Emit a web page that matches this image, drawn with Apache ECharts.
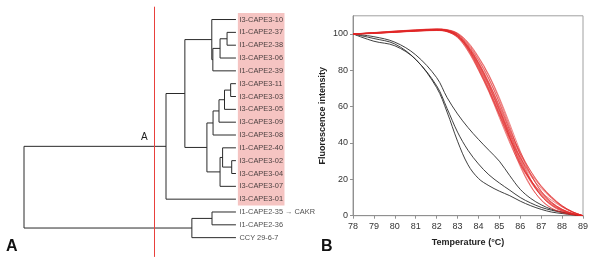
<!DOCTYPE html>
<html>
<head>
<meta charset="utf-8">
<script src="https://cdn.jsdelivr.net/npm/echarts@6/dist/echarts.min.js"></script>
<style>
  html, body { margin: 0; padding: 0; background: #fff; }
  #chart { width: 600px; height: 263px; }
</style>
</head>
<body>
<div id="chart"></div>
<script>
// ---- panel A : dendrogram ----
const leafNames = [
  "I3-CAPE3-10", "I1-CAPE2-37", "I1-CAPE2-38", "I3-CAPE3-06", "I1-CAPE2-39",
  "I3-CAPE3-11", "I3-CAPE3-03", "I3-CAPE3-05", "I3-CAPE3-09", "I3-CAPE3-08",
  "I1-CAPE2-40", "I3-CAPE3-02", "I3-CAPE3-04", "I3-CAPE3-07", "I3-CAPE3-01",
  "I1-CAPE2-35 \u2192 CAKR", "I1-CAPE2-36", "CCY 29-6-7"
];
const highlightedCount = 15; // first 15 leaves are shaded
const leafHeight = 100;
const cutHeight = 61.6;
// node id -> [height, childA, childB]; numbers are leaf indexes, strings are nodes
const treeNodes = {
  P: [95.8, 1, 2],
  S: [92.5, "P", 3],
  T2: [89.1, "S", 4],
  T: [88.6, 0, "T2"],
  U1: [97.5, 5, 6],
  U2: [94.6, "U1", 7],
  U3: [92.0, "U2", 8],
  U4: [89.2, "U3", 9],
  L1: [98.0, 11, 12],
  L2: [93.7, 10, "L1"],
  L3: [92.5, "L2", 13],
  N: [86.3, "U4", "L3"],
  M: [75.9, "T", "N"],
  C1: [67.0, "M", 14],
  C3: [88.7, 15, 16],
  C2: [79.2, "C3", 17],
  R: [0, "C1", "C2"]
};

// ---- panel B : melting curves ----
const temps = [78, 79, 80, 81, 82, 82.5, 83, 83.5, 84, 84.5, 85, 85.5, 86, 86.5, 87, 87.5, 88, 88.5, 89];
const blackCurves = [
  [100, 98.5, 95.5, 88.5, 76, 65, 56, 48.5, 42, 36, 30, 22, 14.5, 9.5, 6, 3.5, 2, 0.8, 0],
  [100, 97.5, 94.5, 86, 71.5, 59, 46, 36, 28.5, 22.5, 18, 14, 10, 7, 4.6, 3, 1.8, 0.8, 0],
  [100, 96, 93.5, 86, 70.5, 57, 41, 28, 20.5, 16.5, 13.5, 11, 8, 5.5, 3.5, 2, 1.2, 0.5, 0]
];
const redCurves = [
  [100, 100.6, 101.3, 102.0, 102.6, 102.2, 100.2, 95.0, 87.0, 77.0, 64.0, 49.0, 33.0, 20.0, 11.0, 5.5, 2.4, 0.8, 0],
  [100, 100.5, 101.0, 101.6, 102.0, 101.5, 99.0, 92.0, 82.5, 71.0, 57.5, 43.0, 29.0, 18.5, 11.0, 6.0, 2.8, 1.0, 0],
  [100, 100.4, 101.1, 101.8, 102.4, 101.9, 99.5, 93.5, 84.5, 73.5, 60.0, 45.0, 30.5, 19.5, 12.0, 6.8, 3.4, 1.3, 0],
  [100, 100.7, 101.5, 102.2, 102.7, 102.0, 99.3, 92.8, 83.0, 71.5, 58.0, 44.5, 32.0, 22.0, 15.0, 9.5, 5.0, 2.0, 0],
  [100, 100.3, 100.9, 101.5, 101.9, 101.2, 98.2, 91.0, 80.5, 68.5, 55.0, 41.0, 27.0, 16.0, 8.8, 4.2, 1.8, 0.6, 0],
  [100, 100.6, 101.4, 102.1, 102.5, 102.1, 100.0, 94.5, 86.0, 75.5, 62.5, 48.0, 34.0, 22.5, 13.5, 7.5, 3.5, 1.2, 0],
  [100, 100.5, 101.2, 101.9, 102.3, 101.7, 98.8, 91.5, 81.0, 69.0, 55.5, 42.5, 32.0, 23.0, 16.0, 10.0, 5.5, 2.2, 0],
  [100, 100.4, 101.0, 101.7, 102.1, 101.4, 98.5, 92.5, 83.5, 72.5, 59.0, 43.0, 28.0, 16.5, 8.5, 4.0, 1.6, 0.5, 0],
  [100, 100.8, 101.6, 102.3, 102.8, 102.4, 100.5, 95.5, 87.5, 77.5, 65.0, 50.5, 35.5, 23.0, 13.5, 7.0, 3.2, 1.1, 0],
  [100, 100.3, 101.0, 101.6, 102.0, 101.3, 98.0, 90.5, 80.0, 68.0, 54.0, 40.0, 28.0, 19.5, 13.0, 8.5, 4.8, 2.0, 0],
  [100, 100.6, 101.3, 101.9, 102.4, 101.8, 99.2, 93.0, 84.0, 73.0, 60.5, 47.0, 35.0, 24.5, 16.0, 10.0, 5.2, 2.0, 0],
  [100, 100.5, 101.1, 101.8, 102.2, 101.6, 99.0, 92.2, 82.0, 70.0, 56.5, 43.5, 30.0, 19.0, 11.5, 6.2, 3.0, 1.0, 0],
  [100, 100.7, 101.5, 102.1, 102.6, 102.2, 100.0, 94.0, 85.5, 75.0, 62.0, 46.5, 31.5, 19.5, 11.0, 5.8, 2.6, 0.9, 0],
  [100, 100.4, 101.2, 101.8, 102.3, 101.7, 99.4, 93.2, 84.0, 72.0, 58.5, 45.5, 34.0, 24.5, 16.5, 10.5, 5.5, 2.2, 0],
  [100, 100.5, 101.1, 101.7, 102.1, 101.5, 98.6, 91.8, 81.5, 69.5, 56.0, 42.0, 29.0, 19.5, 12.5, 7.2, 3.6, 1.3, 0]
];
const yTicks = [0, 20, 40, 60, 80, 100];

const font = "'Liberation Sans', Arial, sans-serif";

// position of a child: [height, row]
function place(child) {
  if (typeof child === "number") return [leafHeight, child];
  const n = treeNodes[child];
  const a = place(n[1]);
  const b = place(n[2]);
  return [n[0], (a[1] + b[1]) / 2];
}

const treeLines = Object.keys(treeNodes).map(function (id) {
  const n = treeNodes[id];
  const a = place(n[1]);
  const b = place(n[2]);
  return { coords: [a, [n[0], a[1]], [n[0], b[1]], b] };
});

const leafPoints = leafNames.map(function (name, i) {
  return { name: name, value: [leafHeight, i] };
});

const curveSeries = [];
blackCurves.forEach(function (c) {
  curveSeries.push({
    type: "line",
    xAxisIndex: 1,
    yAxisIndex: 1,
    data: temps.map((t, i) => [t, c[i]]),
    smooth: 0.35,
    symbol: "none",
    silent: true,
    lineStyle: { color: "#2a2a2a", width: 0.9 }
  });
});
redCurves.forEach(function (c) {
  curveSeries.push({
    type: "line",
    xAxisIndex: 1,
    yAxisIndex: 1,
    data: temps.map((t, i) => [t, c[i]]),
    smooth: 0.35,
    symbol: "none",
    silent: true,
    lineStyle: { color: "#e02828", width: 0.7, opacity: 0.8 }
  });
});

const myChart = echarts.init(document.getElementById("chart"));

myChart.setOption({
  animation: false,
  textStyle: { fontFamily: font },
  grid: [
    { left: 24, top: 6.7, width: 266, height: 250.2 },
    {
      left: 353, top: 15.8, right: 17, height: 199.9,
      show: true, borderColor: "#a0a0a0", borderWidth: 1
    }
  ],
  xAxis: [
    { gridIndex: 0, type: "value", min: 0, max: 125.5, show: false },
    {
      gridIndex: 1, type: "value", min: 78, max: 89, interval: 1,
      name: "Temperature (\u00b0C)",
      nameLocation: "middle",
      nameGap: 22,
      nameTextStyle: { fontSize: 9, fontWeight: "bold", color: "#222" },
      axisLine: { lineStyle: { color: "#909090" } },
      axisTick: { length: 3, lineStyle: { color: "#909090" } },
      axisLabel: { fontSize: 9, color: "#333", margin: 6 },
      splitLine: { show: false }
    }
  ],
  yAxis: [
    { gridIndex: 0, type: "value", min: -1, max: 18.5, inverse: true, show: false },
    {
      gridIndex: 1, type: "value", min: 0, max: 110,
      name: "Fluorescence intensity",
      nameLocation: "middle",
      nameGap: 26,
      nameTextStyle: { fontSize: 9, fontWeight: "bold", color: "#222" },
      axisLine: { show: true, lineStyle: { color: "#909090" } },
      axisTick: { show: true, length: 3, customValues: yTicks, lineStyle: { color: "#909090" } },
      axisLabel: { fontSize: 9, color: "#333", margin: 5, customValues: yTicks },
      splitLine: { show: false }
    }
  ],
  graphic: [
    {
      type: "text", left: 6, top: 239,
      style: { text: "A", font: "bold 16px " + font, fill: "#111" }
    },
    {
      type: "text", left: 321, top: 239,
      style: { text: "B", font: "bold 16px " + font, fill: "#111" }
    },
    {
      type: "text", left: 141, top: 132,
      style: { text: "A", font: "10px " + font, fill: "#222" }
    }
  ],
  series: [
    {
      type: "lines",
      coordinateSystem: "cartesian2d",
      xAxisIndex: 0,
      yAxisIndex: 0,
      polyline: true,
      silent: true,
      data: treeLines,
      lineStyle: { color: "#2a2a2a", width: 1, opacity: 1 }
    },
    {
      type: "scatter",
      xAxisIndex: 0,
      yAxisIndex: 0,
      symbolSize: 1,
      silent: true,
      itemStyle: { color: "rgba(0,0,0,0)" },
      data: leafPoints,
      label: {
        show: true,
        position: "right",
        distance: 3,
        formatter: "{b}",
        fontSize: 7.4,
        color: "#1a1a1a"
      },
      markArea: {
        silent: true,
        itemStyle: { color: "#f5c4c2" },
        data: [[
          { xAxis: 100.9, yAxis: -0.5 },
          { xAxis: 122.9, yAxis: highlightedCount - 0.5 }
        ]]
      },
      markLine: {
        silent: true,
        symbol: "none",
        label: { show: false },
        lineStyle: { color: "#e8403c", width: 1, type: "solid" },
        data: [{ xAxis: cutHeight }]
      },
      z: 1
    }
  ].concat(curveSeries)
});
</script>
</body>
</html>
